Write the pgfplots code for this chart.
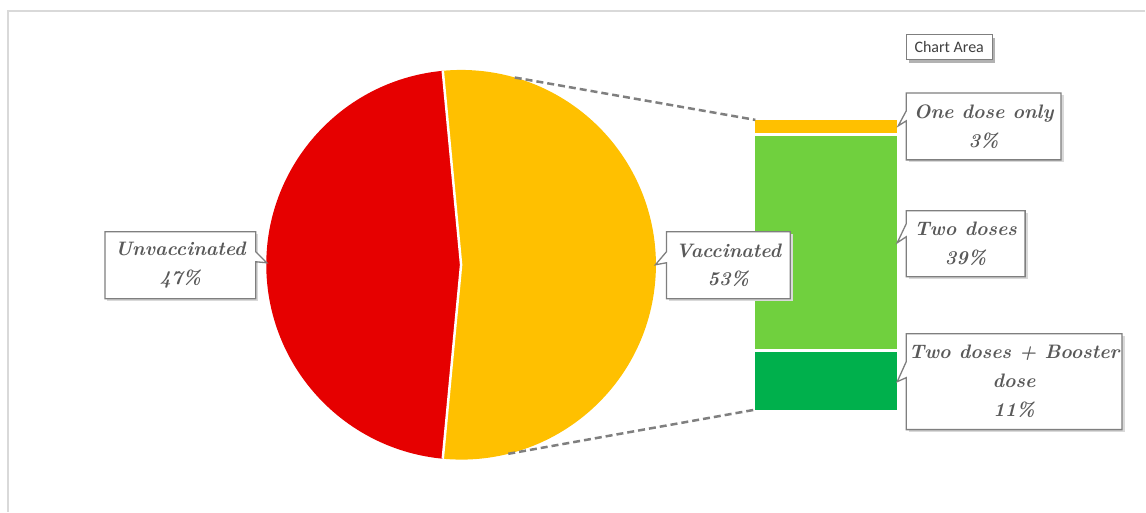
\documentclass[border=0pt]{standalone}
\usepackage{fontspec}
\usepackage{pgfplots}
\usepackage{pgfplotstable}
\pgfplotsset{compat=1.18}
\newfontfamily\uifont{Carlito}

\definecolor{piered}{HTML}{E60000}
\definecolor{pieyellow}{HTML}{FFC000}
\definecolor{ltgreen}{HTML}{70D03E}
\definecolor{dkgreen}{HTML}{00B04C}
\definecolor{lbltext}{HTML}{595959}
\definecolor{boxline}{HTML}{7F7F7F}
\definecolor{frame}{HTML}{D9D9D9}

% pie: share of population
\pgfplotstableread{
label value
Unvaccinated 47
Vaccinated 53
}\pietable

% bar: split of the vaccinated slice
\pgfplotstableread{
x booster two one
0 11 39 3
}\bartable

\pgfplotstablegetelem{1}{value}\of\pietable
\pgfmathsetmacro\half{1.8*\pgfplotsretval}

\tikzset{
  lbl/.style={text=lbltext, align=center, font=\fontsize{19.5}{29}\selectfont\bfseries\itshape},
  callout/.style={draw=boxline, line width=1.3pt, fill=white, line join=miter},
  shade/.style={fill=black!15},
}

\begin{document}
\begin{tikzpicture}
% bar of the vaccinated slice (drawn first, the callouts sit on top)
\begin{axis}[
  at={(754.5pt,100.5pt)}, anchor=south west,
  scale only axis, width=145pt, height=293pt,
  xmin=-0.5, xmax=0.5, ymin=0, ymax=53,
  hide axis, clip=false,
  ybar stacked, bar width=145pt,
]
\addplot[fill=dkgreen, draw=white, line width=3pt] table[x=x, y=booster] {\bartable};
\addplot[fill=ltgreen, draw=white, line width=3pt] table[x=x, y=two] {\bartable};
\addplot[fill=pieyellow, draw=white, line width=3pt] table[x=x, y=one] {\bartable};
\end{axis}

\begin{axis}[
  at={(0pt,0pt)}, anchor=south west,
  x=1pt, y=1pt,
  xmin=0, xmax=1146, ymin=0, ymax=512,
  hide axis, clip=false,
]
\path (0,0) rectangle (1146,512);
% chart area frame
\draw[frame, line width=2pt] (8,0) -- (8,500.5) -- (1146,500.5);

% pie
\fill[pieyellow] (461.5,247) -- ++(-\half:195pt) arc[start angle=-\half, end angle=\half, radius=195pt] -- cycle;
\fill[piered] (461.5,247) -- ++(\half:195pt) arc[start angle=\half, end angle=360-\half, radius=195pt] -- cycle;
\draw[white, line width=2.5pt] (461.5,247) ++(\half:195pt) -- (461.5,247) -- ++(-\half:195pt);

% connectors
\draw[boxline, line width=2.5pt, dash pattern=on 7pt off 4pt] (515.2,434.4) -- (756,392);
\draw[boxline, line width=2.5pt, dash pattern=on 7pt off 4pt] (508.7,57.8) -- (756,102);

% callouts
\fill[shade] (107.5,210.5) rectangle (258.5,277.5);
\path[callout] (105,280) -- (256,280) -- (256,260) -- (267,249) -- (256,250) -- (256,213) -- (105,213) -- cycle;
\node[lbl] at (180.5,246.5) {Unvaccinated\\47\%};

\fill[shade] (669.5,210.5) rectangle (793.5,277.5);
\path[callout] (667,280) -- (791,280) -- (791,213) -- (667,213) -- (667,249) -- (656,247) -- (667,260) -- cycle;
\node[lbl] at (729,246.5) {Vaccinated\\53\%};

\fill[shade] (909.5,349.5) rectangle (1064.5,416.5);
\path[callout] (907,419) -- (1062,419) -- (1062,352) -- (907,352) -- (907,391) -- (899,386) -- (907,401) -- cycle;
\node[lbl] at (984.5,385.5) {One dose only\\3\%};

\fill[shade] (909.5,232.5) rectangle (1028.5,298.5);
\path[callout] (907,301) -- (1026,301) -- (1026,235) -- (907,235) -- (907,275) -- (898,269) -- (907,288) -- cycle;
\node[lbl] at (966.5,268) {Two doses\\39\%};

\fill[shade] (909.5,79.5) rectangle (1125.5,175.5);
\path[callout] (907,178) -- (1123,178) -- (1123,82) -- (907,82) -- (907,134) -- (898,130) -- (907,150) -- cycle;
\node[lbl] at (1015,130) {Two doses + Booster\\dose\\11\%};

% tooltip
\fill[black!30] (910,449) rectangle (996,474);
\draw[boxline, line width=1pt, fill=white] (907,452) rectangle (993,477);
\node[text=black!75, font=\uifont\fontsize{16}{18}\selectfont] at (950,464.5) {Chart Area};
\end{axis}
\end{tikzpicture}
\end{document}
